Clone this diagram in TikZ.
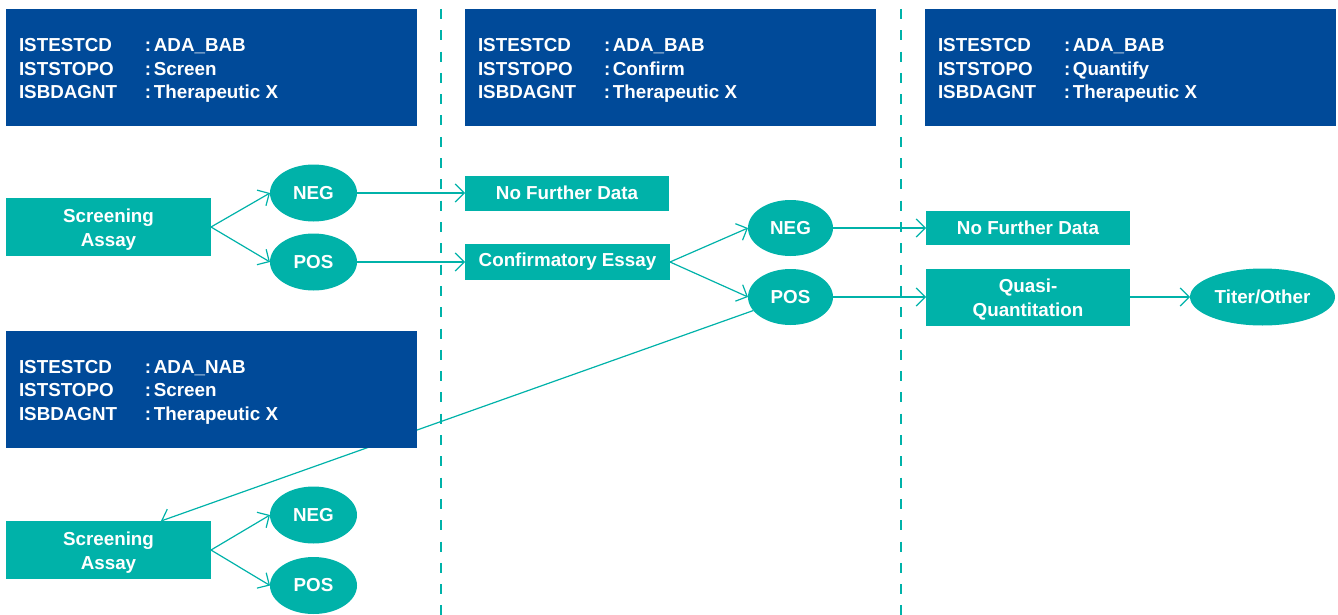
\documentclass[tikz,border=0pt]{standalone}
\usepackage{fontspec}
\setmainfont{Liberation Sans}
\usetikzlibrary{arrows.meta,shapes.geometric}

\definecolor{tealC}{RGB}{0,178,169}
\definecolor{blueC}{RGB}{0,74,153}

\begin{document}
\begin{tikzpicture}[
  x=1pt, y=-1pt,
  every node/.style={inner sep=0pt, outer sep=0pt},
  lbl/.style={font=\fontsize{18.8}{23.5}\selectfont\bfseries, text=white},
  infobox/.style={fill=blueC, minimum width=411pt, minimum height=117pt, anchor=north west},
  infoline/.style={lbl, anchor=base west},
  procbox/.style={lbl, fill=tealC, align=center},
  oval/.style={lbl, ellipse, fill=tealC, minimum width=87pt, minimum height=57pt},
  flow/.style={draw=tealC, line width=1.2pt, -{Straight Barb[length=9pt,width=18pt,line width=1.2pt]}},
  divider/.style={draw=tealC, line width=1.5pt, dash pattern=on 10pt off 11.3pt, dash phase=12.3pt}
]
\useasboundingbox (0,0) rectangle (1338,615);

% column dividers
\draw[divider] (441,0) -- (441,615);
\draw[divider] (901,0) -- (901,615);

% three lines of parameters inside an info box
\newcommand\paramlines[5]{%
  \node[infoline] (#1a) at (#2,#3)      {\makebox[126pt][l]{ISTESTCD}:\hspace{2.6pt}#4};
  \node[infoline] (#1b) at (#2,#3+23.5) {\makebox[126pt][l]{ISTSTOPO}:\hspace{2.6pt}#5};
  \node[infoline] (#1c) at (#2,#3+47)   {\makebox[126pt][l]{ISBDAGNT}:\hspace{2.6pt}Therapeutic X};
}
% taller first line pushes two-line labels slightly down
\newcommand\lift{\rule{0pt}{18.8pt}}

% header boxes
\node[infobox] (info1) at (6,9) {};
\node[infobox] (info2) at (465,9) {};
\node[infobox] (info3) at (925,9) {};
\paramlines{p1}{19}{52}{ADA\_BAB}{Screen}
\paramlines{p2}{478}{52}{ADA\_BAB}{Confirm}
\paramlines{p3}{938}{52}{ADA\_BAB}{Quantify}

% binding-antibody branch
\node[procbox, minimum width=205pt, minimum height=58pt] (sa1) at (108.5,227) {\lift Screening\\Assay};
\node[oval] (neg1) at (313.5,193) {NEG};
\node[oval] (pos1) at (313.5,262) {POS};
\node[procbox, minimum width=204pt, minimum height=35pt] (nfd1) at (567,193) {No Further Data};
\node[procbox, minimum width=205pt, minimum height=36pt] (conf) at (567.5,262) {Confirmatory Essay};
\node[oval, minimum width=85pt, minimum height=56pt] (neg2) at (790.5,228) {NEG};
\node[oval, minimum width=85pt, minimum height=56pt] (pos2) at (790.5,297) {POS};
\node[procbox, minimum width=204pt, minimum height=34pt] (nfd2) at (1028,228) {No Further Data};
\node[procbox, minimum width=204pt, minimum height=57pt] (qq) at (1028,297) {\lift Quasi-\\Quantitation};
\node[oval, minimum width=145pt, minimum height=57pt] (titer) at (1262.5,297) {Titer/Other};

% neutralising-antibody branch
\node[procbox, minimum width=205pt, minimum height=58pt] (sa2) at (108.5,550) {\lift Screening\\Assay};
\node[oval] (neg3) at (313.5,515) {NEG};
\node[oval] (pos3) at (313.5,585.5) {POS};

% connectors
\draw[flow] (sa1.east) -- (neg1.west);
\draw[flow] (sa1.east) -- (pos1.west);
\draw[flow] (neg1.east) -- (nfd1.west);
\draw[flow] (pos1.east) -- (conf.west);
\draw[flow] (conf.east) -- (neg2.west);
\draw[flow] (conf.east) -- (pos2.west);
\draw[flow] (neg2.east) -- (nfd2.west);
\draw[flow] (pos2.east) -- (qq.west);
\draw[flow] (qq.east) -- (titer.west);
\draw[flow] (sa2.east) -- (neg3.west);
\draw[flow] (sa2.east) -- (pos3.west);
\coordinate (sa2in) at ([xshift=52.5pt]sa2.north);
\draw[flow] (pos2.200) -- (sa2in);

% NAb header box sits over the long connector
\node[infobox] (info4) at (6,331) {};
\paramlines{p4}{19}{373}{ADA\_NAB}{Screen}
\end{tikzpicture}
\end{document}
